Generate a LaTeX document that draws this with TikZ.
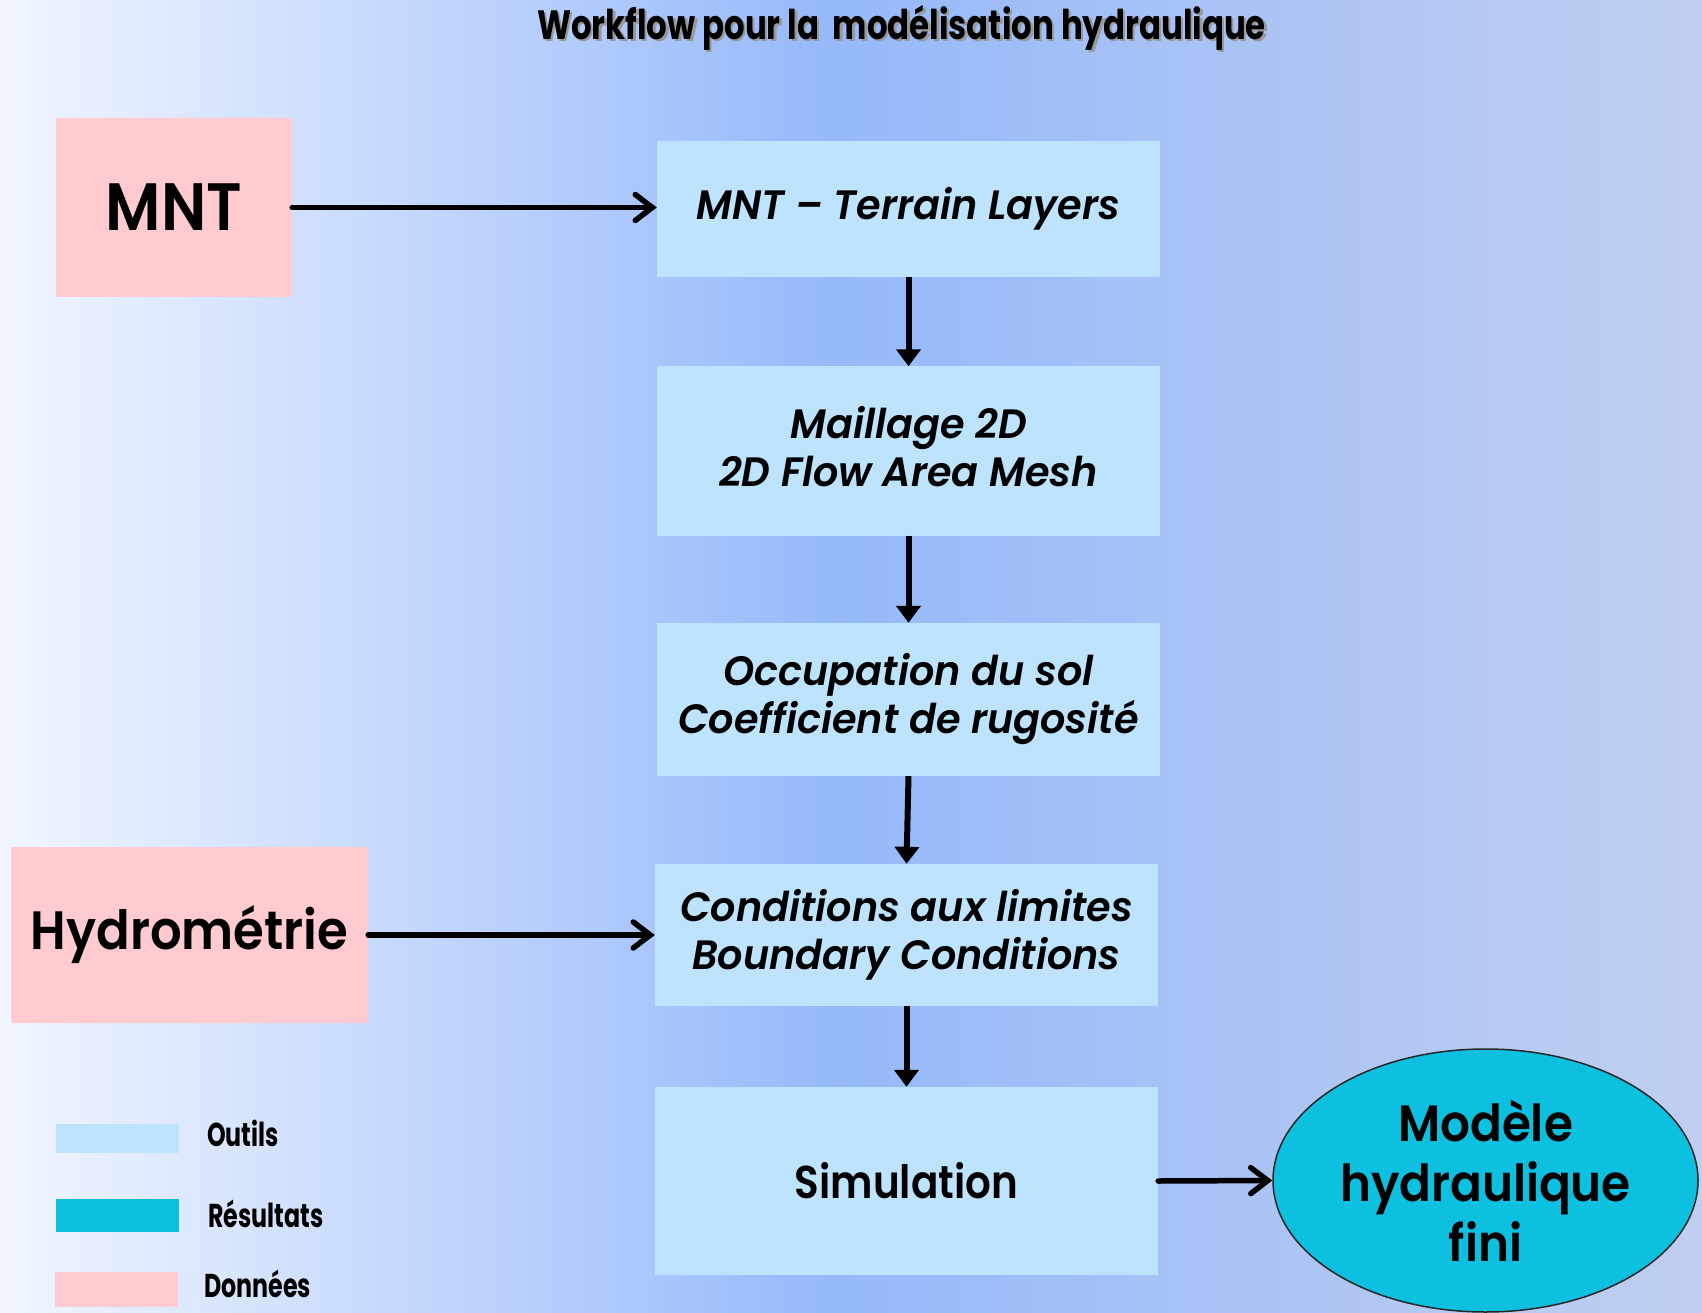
\documentclass[tikz,border=0pt]{standalone}
\usepackage{fontspec}
\setmainfont{Poppins}[BoldFont={Poppins SemiBold}, BoldItalicFont={Poppins SemiBold Italic}]
\newfontfamily\condfont{Poppins}[FakeStretch=0.79]
\newfontfamily\legfont{Poppins}[FakeStretch=0.72]
\newfontfamily\datafont{Poppins}[BoldFont={Poppins SemiBold}, FakeStretch=0.92]
\newfontfamily\toolfont{Poppins}[BoldFont={Poppins SemiBold}, BoldItalicFont={Poppins SemiBold Italic}, FakeStretch=0.97]
\newfontfamily\simfont{Poppins}[BoldFont={Poppins SemiBold}, FakeStretch=0.88]
\usetikzlibrary{arrows.meta,shapes.geometric}
\definecolor{bgA}{RGB}{241,246,255}
\definecolor{bgC}{RGB}{150,185,250}
\definecolor{bgD}{RGB}{192,207,240}
\definecolor{pinkbox}{RGB}{255,202,208}
\definecolor{toolblue}{RGB}{190,227,255}
\definecolor{resblue}{RGB}{13,192,224}
\tikzset{
  databox/.style={fill=pinkbox, rounded corners=2pt, inner sep=0pt, align=center},
  toolbox/.style={fill=toolblue, inner sep=0pt, align=center, minimum width=503, font=\toolfont\bfseries\itshape\fontsize{41}{48}\selectfont},
  tooltext/.style={inner sep=0pt, align=center, font=\toolfont\bfseries\itshape\fontsize{41}{48}\selectfont},
  harrow/.style={line width=5.5, line cap=round, -{Straight Barb[length=17,width=26,line cap=round]}},
  varrow/.style={line width=6, -{Triangle[length=17,width=24]}},
  legendlabel/.style={anchor=base west, inner sep=0pt, font=\legfont\bfseries\fontsize{33}{33}\selectfont},
  swatch/.style={inner sep=0pt, minimum width=123},
}
\begin{document}
\begin{tikzpicture}[x=1pt,y=-1pt]
\useasboundingbox (0,0) rectangle (1702,1313);
\shade[left color=bgA, right color=bgC] (0,0) rectangle (831,1313);
\shade[left color=bgC, right color=bgD] (830,0) rectangle (1702,1313);

% title with shadow
\node[anchor=base, inner sep=0pt, text=black!40, font=\condfont\bfseries\fontsize{41}{41}\selectfont] (titleshadow) at (904,42) {Workflow pour la\ \ modélisation hydraulique};
\node[anchor=base, inner sep=0pt, font=\condfont\bfseries\fontsize{41}{41}\selectfont] (title) at (901.5,40) {Workflow pour la\ \ modélisation hydraulique};

% data boxes
\node[databox, minimum width=236, minimum height=179, font=\datafont\bfseries\fontsize{67}{67}\selectfont] (mnt) at (174,207.5) {MNT};
\node[databox, minimum width=357, minimum height=176, font=\datafont\bfseries\fontsize{54}{54}\selectfont] (hydro) at (189.5,935) {Hydrométrie};

% tool boxes
\node[toolbox, minimum height=136] (b1) at (908.5,209) {MNT – Terrain Layers};
\node[toolbox, minimum height=169] (b2) at (908.5,451) {};
\node[tooltext] (b2text) at ([yshift=4pt]b2.center) {Maillage 2D\\2D Flow Area Mesh};
\node[toolbox, minimum height=153] (b3) at (908.5,699.5) {Occupation du sol\\Coefficient de rugosité};
\node[toolbox, minimum height=142] (b4) at (906.5,935) {Conditions aux limites\\Boundary Conditions};
\node[toolbox, minimum height=188, font=\simfont\bfseries\fontsize{46}{46}\selectfont] (b5) at (906.5,1181) {Simulation};

% result
\node[ellipse, draw=black!85, line width=1.5, fill=resblue, minimum width=425, minimum height=263, inner sep=0pt] (res) at (1485.5,1180.5) {};
\node[inner sep=0pt, align=center, font=\datafont\bfseries\fontsize{51}{60}\selectfont] (restext) at (res.center) {Modèle\\hydraulique\\fini};

% connectors
\draw[harrow] (mnt.east) -- (mnt.east -| b1.west);
\draw[harrow] (hydro.east) -- (b4.west);
\draw[harrow] (b5.east) -- (res.west);
\draw[varrow] (b1.south) -- (b2.north);
\draw[varrow] (b2.south) -- (b3.north);
\draw[varrow] (b3.south) -- (b4.north);
\draw[varrow] (b4.south) -- (b5.north);

% legend
\node[swatch, fill=toolblue, minimum height=29] (lg1) at (117.5,1138.5) {};
\node[swatch, fill=resblue, minimum height=33] (lg2) at (117.5,1215.5) {};
\node[swatch, fill=pinkbox, minimum height=35] (lg3) at (116.5,1289.5) {};
\node[legendlabel] (lt1) at (207,1146) {Outils};
\node[legendlabel] (lt2) at (208,1227) {Résultats};
\node[legendlabel] (lt3) at (204,1297) {Données};
\end{tikzpicture}
\end{document}
